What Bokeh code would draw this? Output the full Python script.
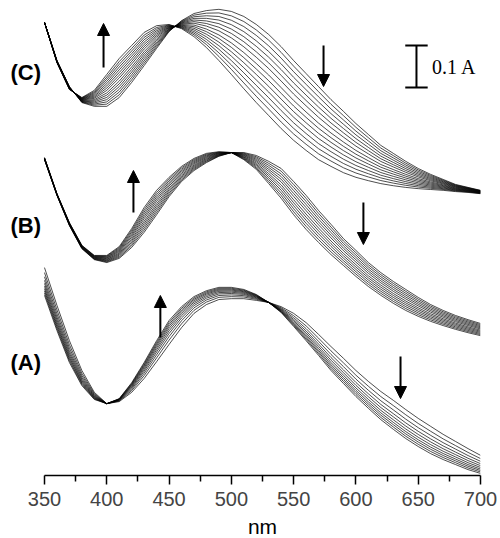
from bokeh.plotting import figure
from bokeh.layouts import column
from bokeh.models import Range1d, Label, Arrow, NormalHead, FixedTicker
from bokeh.core.properties import value
from bokeh.embed import file_html
from bokeh.resources import INLINE

# ---------------- data ----------------
WAVELENGTH = list(range(350, 701, 10))  # nm

# spectra (absorbance, relative to each trace's baseline)
C_INITIAL = [0.429, 0.338, 0.276, 0.238, 0.229, 0.229, 0.250, 0.286, 0.326, 0.367, 0.407, 0.433,
             0.450, 0.457, 0.460, 0.455, 0.443, 0.424, 0.400, 0.371, 0.338, 0.307, 0.276, 0.245,
             0.217, 0.188, 0.162, 0.136, 0.117, 0.098, 0.081, 0.067, 0.055, 0.043, 0.036, 0.029]
C_FINAL = [0.429, 0.333, 0.269, 0.250, 0.267, 0.305, 0.343, 0.374, 0.405, 0.421, 0.424, 0.414,
           0.395, 0.369, 0.338, 0.305, 0.271, 0.238, 0.207, 0.176, 0.148, 0.124, 0.102, 0.086,
           0.071, 0.060, 0.052, 0.045, 0.040, 0.036, 0.033, 0.031, 0.029, 0.026, 0.024, 0.021]
B_INITIAL = [0.452, 0.367, 0.295, 0.240, 0.214, 0.207, 0.217, 0.243, 0.279, 0.321, 0.364, 0.400,
             0.426, 0.445, 0.460, 0.469, 0.469, 0.462, 0.448, 0.431, 0.400, 0.367, 0.331, 0.298,
             0.264, 0.236, 0.207, 0.183, 0.162, 0.143, 0.124, 0.107, 0.093, 0.081, 0.071, 0.062]
B_FINAL = [0.457, 0.371, 0.302, 0.248, 0.224, 0.224, 0.245, 0.288, 0.338, 0.379, 0.410, 0.436,
           0.455, 0.467, 0.471, 0.469, 0.452, 0.429, 0.395, 0.360, 0.321, 0.286, 0.255, 0.226,
           0.200, 0.174, 0.150, 0.129, 0.110, 0.093, 0.079, 0.067, 0.057, 0.048, 0.040, 0.033]
A_INITIAL = [0.495, 0.405, 0.321, 0.250, 0.198, 0.171, 0.176, 0.198, 0.231, 0.271, 0.312, 0.352,
             0.386, 0.407, 0.419, 0.421, 0.421, 0.417, 0.412, 0.402, 0.386, 0.364, 0.336, 0.307,
             0.279, 0.250, 0.224, 0.200, 0.179, 0.157, 0.136, 0.117, 0.098, 0.081, 0.064, 0.048]
A_FINAL = [0.429, 0.345, 0.269, 0.214, 0.181, 0.171, 0.183, 0.221, 0.269, 0.321, 0.369, 0.402,
           0.426, 0.440, 0.448, 0.448, 0.443, 0.431, 0.412, 0.388, 0.355, 0.321, 0.286, 0.250,
           0.219, 0.188, 0.160, 0.133, 0.110, 0.088, 0.069, 0.052, 0.038, 0.026, 0.014, 0.005]

# titration progress of each recorded spectrum (0 = initial, 1 = final)
C_PROGRESS = [0, 0.07, 0.14, 0.21, 0.28, 0.35, 0.42, 0.50, 0.57, 0.64, 0.71, 0.78, 0.85, 0.92, 1.0]
B_PROGRESS = [0, 0.09, 0.18, 0.27, 0.36, 0.45, 0.55, 0.64, 0.73, 0.82, 0.91, 1.0]
A_PROGRESS = [0, 0.18, 0.33, 0.46, 0.57, 0.67, 0.76, 0.84, 0.92, 1.0]

PANEL_NAMES = ["(A)", "(B)", "(C)"]
PANEL_OFFSETS = [0.0, 0.3, 0.65]  # vertical stacking of the traces (A)
PANEL_LABEL_Y = [0.269, 0.595, 0.9595]
PANEL_LABEL_X = 322.7

# arrows: (wavelength, start absorbance, end absorbance)
ARROWS = [(397.4, 0.9714, 1.0762), (574.0, 1.0238, 0.9262),
          (421.4, 0.6262, 0.7262), (606.0, 0.650, 0.550),
          (443.0, 0.3286, 0.4286), (635.8, 0.2833, 0.1833)]

SCALE_BAR_X = 648.6
SCALE_BAR_TOP = 1.0238
SCALE_BAR_SIZE = 0.1
SCALE_BAR_LABEL = "0.1 A"

X_TICKS = [350, 400, 450, 500, 550, 600, 650, 700]
X_MINOR = [375, 425, 475, 525, 575, 625, 675]
X_LABEL = "nm"

# ---------------- main figure ----------------
p = figure(width=500, height=514, output_backend="svg", toolbar_location=None,
           x_range=Range1d(314.68, 700), y_range=Range1d(0, 1.131),
           y_axis_location=None, min_border_left=0, min_border_right=20,
           min_border_top=0, min_border_bottom=39)
p.grid.visible = False
p.outline_line_color = None
p.background_fill_color = "white"

panels = [(A_INITIAL, A_FINAL, A_PROGRESS), (B_INITIAL, B_FINAL, B_PROGRESS),
          (C_INITIAL, C_FINAL, C_PROGRESS)]
xs, ys = [], []
for (ini, fin, prog), off in zip(panels, PANEL_OFFSETS):
    for f in prog:
        xs.append(WAVELENGTH)
        ys.append([off + a + f * (b - a) for a, b in zip(ini, fin)])
p.multi_line(xs, ys, line_color="black", line_width=0.7)

for name, ly in zip(PANEL_NAMES, PANEL_LABEL_Y):
    p.add_layout(Label(x=PANEL_LABEL_X, y=ly, text=name, text_font="Liberation Sans",
                       text_font_style="bold", text_font_size="22px",
                       text_align="left", text_baseline="middle", text_color="black"))

for axx, y0, y1 in ARROWS:
    p.add_layout(Arrow(end=NormalHead(size=12, fill_color="black", line_color="black"),
                       x_start=axx, y_start=y0, x_end=axx, y_end=y1,
                       line_width=2, line_color="black"))

# scale bar
p.segment(x0=[SCALE_BAR_X], y0=[SCALE_BAR_TOP], x1=[SCALE_BAR_X],
          y1=[SCALE_BAR_TOP - SCALE_BAR_SIZE], line_color="black", line_width=2)
p.segment(x0=[SCALE_BAR_X - 9, SCALE_BAR_X - 9], y0=[SCALE_BAR_TOP, SCALE_BAR_TOP - SCALE_BAR_SIZE],
          x1=[SCALE_BAR_X + 9, SCALE_BAR_X + 9], y1=[SCALE_BAR_TOP, SCALE_BAR_TOP - SCALE_BAR_SIZE],
          line_color="black", line_width=2)
p.text(x=[SCALE_BAR_X + 12.5], y=[SCALE_BAR_TOP - SCALE_BAR_SIZE / 2], text=[SCALE_BAR_LABEL],
       text_font=value("Liberation Serif"), text_font_size="20px",
       text_align="left", text_baseline="middle", text_color="black")

ax = p.xaxis[0]
ax.bounds = (350, 700)
ax.ticker = FixedTicker(ticks=X_TICKS, minor_ticks=X_MINOR)
ax.major_label_text_font = "Liberation Sans"
ax.major_label_text_font_size = "20px"
ax.major_label_standoff = 7
ax.axis_line_width = 1.5
ax.major_tick_line_width = 1.5
ax.minor_tick_line_width = 1.5
ax.major_tick_in = 0
ax.major_tick_out = 9
ax.minor_tick_in = 0
ax.minor_tick_out = 6

# ---------------- strip holding the axis title ----------------
q = figure(width=500, height=24, output_backend="svg", toolbar_location=None,
           x_range=p.x_range, y_range=Range1d(0, 24),
           x_axis_location=None, y_axis_location=None,
           min_border_left=0, min_border_right=20, min_border_top=0, min_border_bottom=0)
q.grid.visible = False
q.outline_line_color = None
q.add_layout(Label(x=525, y=12, text=X_LABEL, text_font="Liberation Sans",
                   text_font_size="21px", text_align="center", text_baseline="middle",
                   text_color="black"))

layout = column(p, q, spacing=0)
open("out.html", "w").write(file_html(layout, INLINE))
